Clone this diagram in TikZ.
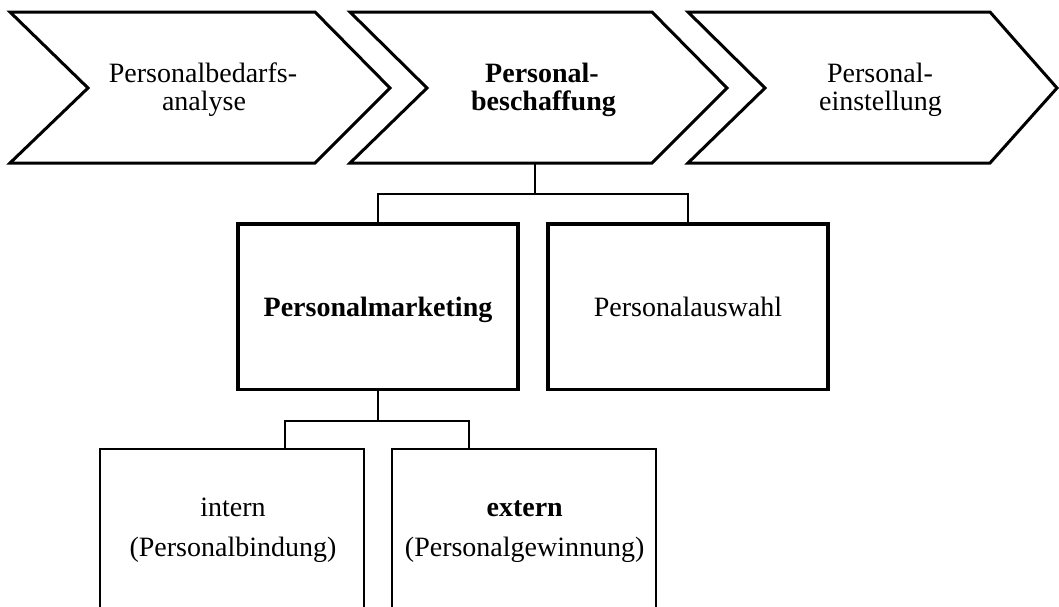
\documentclass[tikz,border=0pt]{standalone}
\usepackage{fontspec}
\setmainfont{Liberation Serif}
\usetikzlibrary{calc}
\begin{document}
\begin{tikzpicture}[x=1pt,y=-1pt,
  chev/.style={draw=black,line width=3pt,line join=miter},
  bigbox/.style={draw=black,line width=3.2pt,minimum width=280pt,minimum height=165.6pt,inner sep=0pt},
  smallbox/.style={draw=black,line width=2.4pt,minimum width=264pt,minimum height=191.3pt,inner sep=0pt},
  conn/.style={draw=black,line width=1.6pt},
  txt/.style={anchor=base,inner sep=0pt,font=\fontsize{28}{30}\selectfont},
  btxt/.style={txt,font=\fontsize{28}{30}\selectfont\bfseries}]
\clip (0,0) rectangle (1059,606);
\fill[white] (0,0) rectangle (1059,606);
% chevrons
\path[chev] (10,12) -- (315,12) -- (390,88) -- (315,163) -- (10,163) -- (88,88) -- cycle;
\path[chev] (350,12) -- (652,12) -- (727,88) -- (652,163) -- (350,163) -- (427,88) -- cycle;
\path[chev] (688,12) -- (990,12) -- (1057,88) -- (990,163) -- (688,163) -- (765,88) -- cycle;
\node[txt] (t1a) at (203,82.3) {Personalbedarfs-};
\node[txt] (t1b) at (204,110.7) {analyse};
\node[btxt] (t2a) at (542,82.3) {Personal-};
\node[btxt] (t2b) at (543.5,110.7) {beschaffung};
\node[txt] (t3a) at (880,82.3) {Personal-};
\node[txt] (t3b) at (880.5,110.7) {einstellung};
\coordinate (c2b) at (535,163);
% boxes
\node[bigbox] (pm) at (378,306.8) {};
\node[bigbox] (pa) at (688,306.8) {};
\node[btxt] (pmt) at (378,316) {Personalmarketing};
\node[txt] (pat) at (688,316) {Personalauswahl};
\node[smallbox] (in) at (232,544.35) {};
\node[smallbox] (ex) at (524,544.35) {};
\node[txt] (in1) at (233,516.7) {intern};
\node[txt] (in2) at (233,556.5) {(Personalbindung)};
\node[btxt] (ex1) at (524.7,516.7) {extern};
\node[txt] (ex2) at (524.7,556.5) {(Personalgewinnung)};
% connectors
\coordinate (j1) at (535,194);
\draw[conn] (c2b) -- (j1);
\draw[conn] (j1) -| (pm.north);
\draw[conn] (j1) -| (pa.north);
\coordinate (j2) at ($(pm.south)+(0,29.7)$);
\coordinate (it) at ($(in.north)+(53,0)$);
\coordinate (et) at ($(ex.north)+(-55,0)$);
\draw[conn] (pm.south) -- (j2);
\draw[conn] (j2) -| (it);
\draw[conn] (j2) -| (et);
\end{tikzpicture}
\end{document}
